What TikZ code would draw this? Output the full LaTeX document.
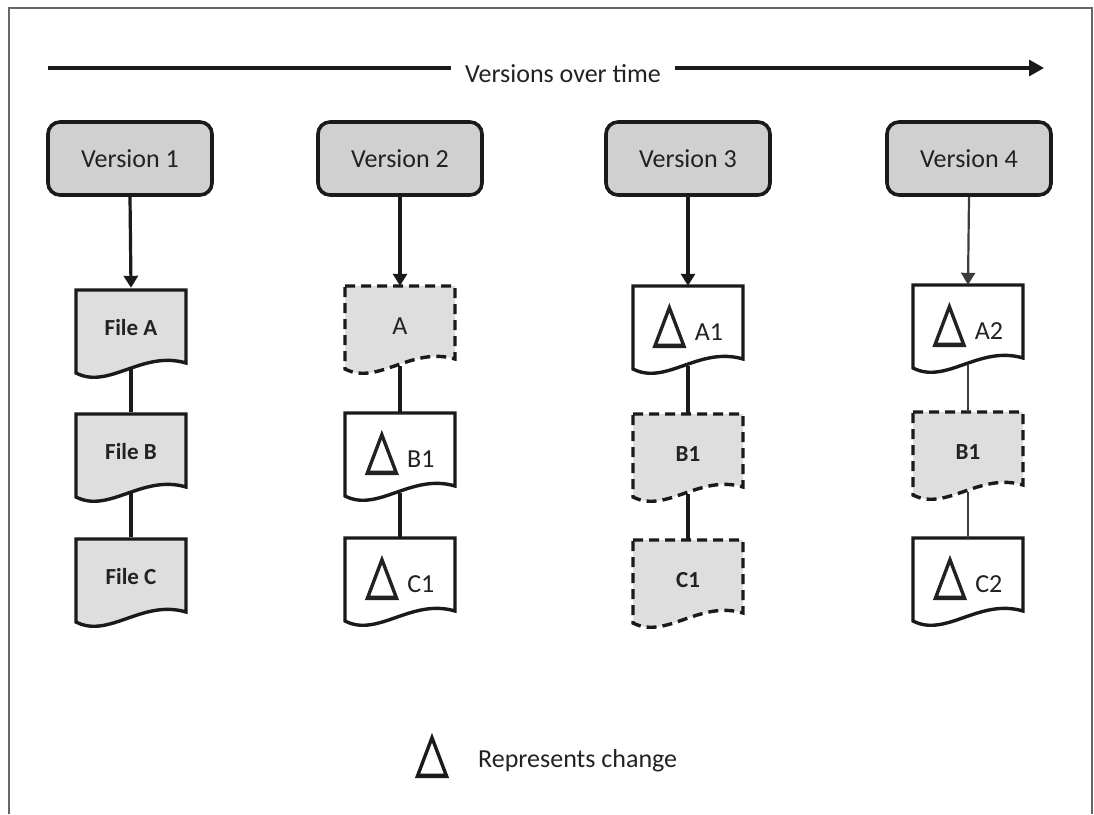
\documentclass[tikz,border=0pt]{standalone}
\usepackage{fontspec}
\setmainfont{Carlito}
\newfontfamily\symfont[FakeBold=2.6]{DejaVu Sans}
\usetikzlibrary{arrows.meta,calc}

\definecolor{ink}{HTML}{1A1A1A}
\definecolor{txt}{HTML}{222222}
\definecolor{boxfill}{HTML}{D0D0D0}
\definecolor{docfill}{HTML}{DEDEDE}

% change marker
\newcommand{\dlt}{{\symfont\fontsize{56}{56}\selectfont\scalebox{0.76}[1]{△}}}

% document symbol: top edge centred on (#2,#3), width 110
\newcommand{\docshape}[4]{%
  \path[#4] (#2-55,#3) coordinate (#1-tl) -- (#2+55,#3) -- (#2+55,#3+73)
    .. controls (#2+11,#3+60) and (#2-22,#3+100) .. (#2-55,#3+83) -- cycle;
}

\tikzset{
  verbox/.style={draw=ink, line width=3.6pt, fill=boxfill, rounded corners=12pt,
    minimum width=164pt, minimum height=73pt, inner sep=0pt, text=txt,
    font=\fontsize{26}{26}\selectfont},
  docnode/.style={minimum width=110pt, minimum height=80pt, inner sep=0pt,
    text=txt, font=\fontsize{26}{26}\selectfont},
  boldlabel/.style={font=\fontsize{23}{23}\selectfont\bfseries},
  grayfile/.style={fill=docfill, draw=ink, line width=3.4pt},
  newfile/.style={fill=white, draw=ink, line width=3.4pt},
  keptfile/.style={fill=docfill, draw=ink, line width=3.4pt, dash pattern=on 10pt off 6pt},
  flow/.style={draw=ink, line width=3.2pt},
  thinflow/.style={draw=ink!85, line width=2.2pt},
  arr/.style={-{Triangle[width=14pt,length=12pt]}},
}

\begin{document}
\begin{tikzpicture}[x=1pt,y=-1pt]
\useasboundingbox (0,0) rectangle (1094,814);
\fill[white] (0,0) rectangle (1094,814);

% frame (open at the bottom)
\draw[gray!80!black, line width=2.4pt] (9,814) -- (9,8) -- (1092,8) -- (1092,814);

% time axis
\node[text=txt, font=\fontsize{26}{26}\selectfont, inner sep=0pt] (title) at (563,74) {Versions over time};
\coordinate (axstart) at (48,68);
\coordinate (axend) at (1044,68);
\draw[flow] (axstart) -- ([xshift=-14pt]title.west |- axstart);
\draw[flow, -{Triangle[width=16pt,length=15pt]}] ([xshift=14pt]title.east |- axend) -- (axend);

% version heads
\node[verbox] (v1) at (130,158.5) {Version 1};
\node[verbox] (v2) at (400,158.5) {Version 2};
\node[verbox] (v3) at (688,158.5) {Version 3};
\node[verbox] (v4) at (969,158.5) {Version 4};

% column 1
\docshape{a1}{131}{290}{grayfile}
\docshape{b1}{131}{414}{grayfile}
\docshape{c1}{131}{539}{grayfile}
\node[docnode, boldlabel] (fa1) at (131,328) {File A};
\node[docnode, boldlabel] (fb1) at (131,452) {File B};
\node[docnode, boldlabel] (fc1) at (131,577) {File C};

% column 2
\docshape{a2}{400}{286}{keptfile}
\docshape{b2}{400}{413}{newfile}
\docshape{c2}{400}{538}{newfile}
\node[docnode] (fa2) at (400,326) {A};
\node[docnode] (fb2) at (400,453) {\dlt\hspace{9pt}B1};
\node[docnode] (fc2) at (400,578) {\dlt\hspace{9pt}C1};

% column 3
\docshape{a3}{688}{286}{newfile}
\docshape{b3}{688}{414}{keptfile}
\docshape{c3}{688}{540}{keptfile}
\node[docnode] (fa3) at (688,326) {\dlt\hspace{9pt}A1};
\node[docnode, boldlabel] (fb3) at (688,454) {B1};
\node[docnode, boldlabel] (fc3) at (688,580) {C1};

% column 4
\docshape{a4}{968}{285}{newfile}
\docshape{b4}{968}{412}{keptfile}
\docshape{c4}{968}{538}{newfile}
\node[docnode] (fa4) at (968,325) {\dlt\hspace{9pt}A2};
\node[docnode, boldlabel] (fb4) at (968,452) {B1};
\node[docnode] (fc4) at (968,578) {\dlt\hspace{9pt}C2};

% connectors
\draw[flow, arr] (v1.south) -- (fa1.north);
\draw[flow, arr] (v2.south) -- (fa2.north);
\draw[flow, arr] (v3.south) -- (fa3.north);
\draw[thinflow, arr] (v4.south) -- (fa4.north);
\draw[flow] (fa1.south) -- (fb1.north);
\draw[flow] (fb1.south) -- (fc1.north);
\draw[flow] (fa2.south) -- (fb2.north);
\draw[flow] (fb2.south) -- (fc2.north);
\draw[flow] (fa3.south) -- (fb3.north);
\draw[flow] (fb3.south) -- (fc3.north);
\draw[thinflow] (fa4.south) -- (fb4.north);
\draw[thinflow] (fb4.south) -- (fc4.north);

% legend
\node[text=ink, inner sep=0pt] (lgsym) at (432,756) {\dlt};
\node[text=txt, font=\fontsize{26}{26}\selectfont, inner sep=0pt, anchor=west] (lgtxt) at (478,761) {Represents change};
\end{tikzpicture}
\end{document}
